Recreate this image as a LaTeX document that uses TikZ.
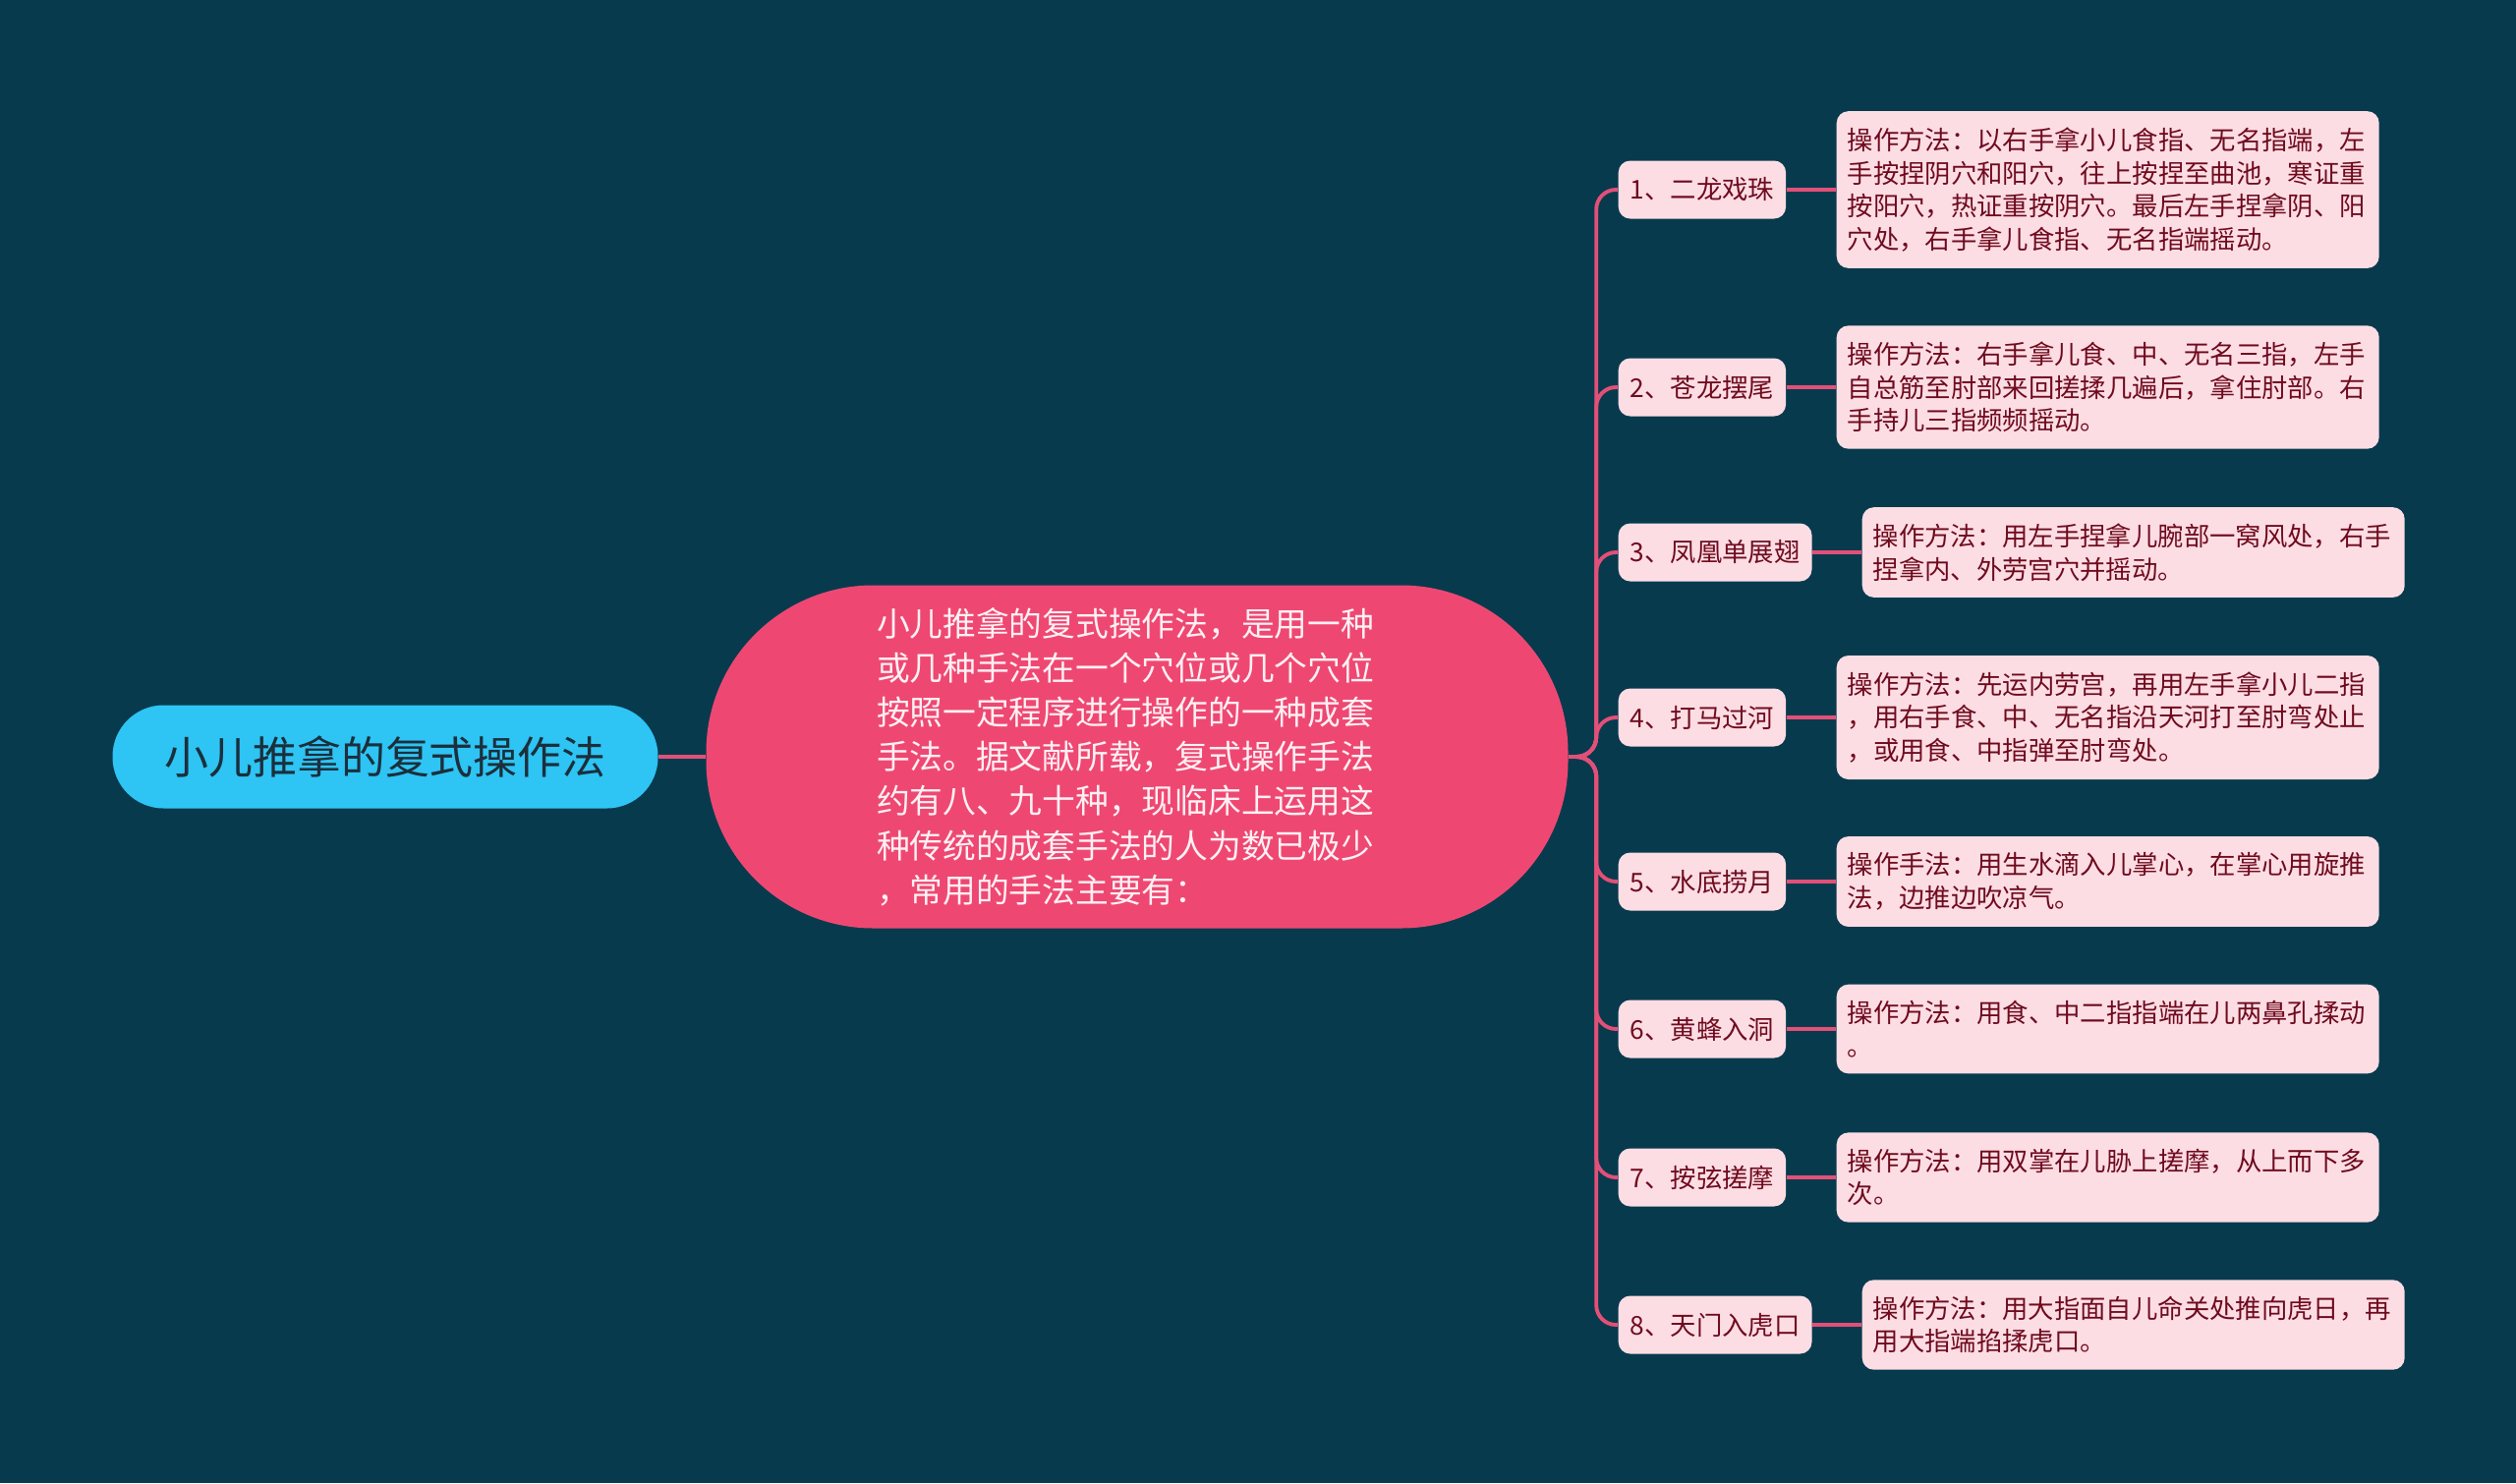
\documentclass[tikz,border=0pt]{standalone}
\usepackage{fontspec}
\setmainfont{Noto Sans CJK SC}
\usepackage{xcolor}
\usepackage{tikz}
\usetikzlibrary{positioning}
\definecolor{bgteal}{RGB}{8,58,78}
\definecolor{rootblue}{RGB}{46,196,243}
\definecolor{roottext}{RGB}{27,47,60}
\definecolor{midpink}{RGB}{238,72,114}
\definecolor{midtext}{RGB}{255,240,243}
\definecolor{leafpink}{RGB}{253,221,228}
\definecolor{leaftext}{RGB}{111,11,30}
\definecolor{linkpink}{RGB}{226,80,120}
\tikzstyle{rootnode} = [fill=rootblue, text=roottext, rounded corners=0.52cm, minimum width=5.55cm, minimum height=1.05cm, inner sep=0pt, font=\fontsize{12.8}{15}\selectfont]
\tikzstyle{midnode} = [fill=midpink, text=midtext, rounded corners=1.7cm, minimum width=8.77cm, minimum height=3.49cm, text width=5.3cm, align=left, font=\fontsize{9.6}{12.85}\selectfont]
\tikzstyle{branchnode} = [fill=leafpink, text=leaftext, rounded corners=0.12cm, anchor=west, minimum height=0.59cm, inner xsep=0.12cm, font=\fontsize{7.5}{9.6}\selectfont]
\tikzstyle{leafnode} = [fill=leafpink, text=leaftext, rounded corners=0.12cm, anchor=west, text width=5.3cm, align=left, inner xsep=0.11cm, inner ysep=0.165cm, font=\fontsize{7.5}{9.6}\selectfont]
\tikzstyle{link} = [draw=linkpink, line width=1.1pt]

\begin{document}
\begin{tikzpicture}
\useasboundingbox (0,0) rectangle (25.6,-15.09);
\fill [bgteal] (0,0) rectangle (25.6,-15.09);

% root and main topic
\node [rootnode] at (3.92,-7.70) (root) {小儿推拿的复式操作法};
\node [midnode] at (11.57,-7.70) (mid) {小儿推拿的复式操作法，是用一种\\或几种手法在一个穴位或几个穴位\\按照一定程序进行操作的一种成套\\手法。据文献所载，复式操作手法\\约有八、九十种，现临床上运用这\\种传统的成套手法的人为数已极少\\，常用的手法主要有：};
\path [link] (root) to (mid);

% branches
\node [branchnode] at (16.46,-1.93) (b1) {1、二龙戏珠};
\node [branchnode] at (16.46,-3.94) (b2) {2、苍龙摆尾};
\node [branchnode] at (16.46,-5.62) (b3) {3、凤凰单展翅};
\node [branchnode] at (16.46,-7.30) (b4) {4、打马过河};
\node [branchnode] at (16.46,-8.97) (b5) {5、水底捞月};
\node [branchnode] at (16.46,-10.47) (b6) {6、黄蜂入洞};
\node [branchnode] at (16.46,-11.98) (b7) {7、按弦搓摩};
\node [branchnode] at (16.46,-13.48) (b8) {8、天门入虎口};

% main topic -> branches
\path [link, rounded corners=0.2cm] (mid.east) -- ++(0.28,0) |- (b1.west);
\path [link, rounded corners=0.2cm] (mid.east) -- ++(0.28,0) |- (b2.west);
\path [link, rounded corners=0.2cm] (mid.east) -- ++(0.28,0) |- (b3.west);
\path [link, rounded corners=0.2cm] (mid.east) -- ++(0.28,0) |- (b4.west);
\path [link, rounded corners=0.2cm] (mid.east) -- ++(0.28,0) |- (b5.west);
\path [link, rounded corners=0.2cm] (mid.east) -- ++(0.28,0) |- (b6.west);
\path [link, rounded corners=0.2cm] (mid.east) -- ++(0.28,0) |- (b7.west);
\path [link, rounded corners=0.2cm] (mid.east) -- ++(0.28,0) |- (b8.west);

% leaves
\node [leafnode] at (18.68,-1.93) (l1) {操作方法：以右手拿小儿食指、无名指端，左\\手按捏阴穴和阳穴，往上按捏至曲池，寒证重\\按阳穴，热证重按阴穴。最后左手捏拿阴、阳\\穴处，右手拿儿食指、无名指端摇动。};
\node [leafnode] at (18.68,-3.94) (l2) {操作方法：右手拿儿食、中、无名三指，左手\\自总筋至肘部来回搓揉几遍后，拿住肘部。右\\手持儿三指频频摇动。};
\node [leafnode] at (18.94,-5.62) (l3) {操作方法：用左手捏拿儿腕部一窝风处，右手\\捏拿内、外劳宫穴并摇动。};
\node [leafnode] at (18.68,-7.30) (l4) {操作方法：先运内劳宫，再用左手拿小儿二指\\，用右手食、中、无名指沿天河打至肘弯处止\\，或用食、中指弹至肘弯处。};
\node [leafnode] at (18.68,-8.97) (l5) {操作手法：用生水滴入儿掌心，在掌心用旋推\\法，边推边吹凉气。};
\node [leafnode] at (18.68,-10.47) (l6) {操作方法：用食、中二指指端在儿两鼻孔揉动\\。};
\node [leafnode] at (18.68,-11.98) (l7) {操作方法：用双掌在儿胁上搓摩，从上而下多\\次。};
\node [leafnode] at (18.94,-13.48) (l8) {操作方法：用大指面自儿命关处推向虎日，再\\用大指端掐揉虎口。};

% branches -> leaves
\path [link] (b1) to (l1);
\path [link] (b2) to (l2);
\path [link] (b3) to (l3);
\path [link] (b4) to (l4);
\path [link] (b5) to (l5);
\path [link] (b6) to (l6);
\path [link] (b7) to (l7);
\path [link] (b8) to (l8);
\end{tikzpicture}
\end{document}
